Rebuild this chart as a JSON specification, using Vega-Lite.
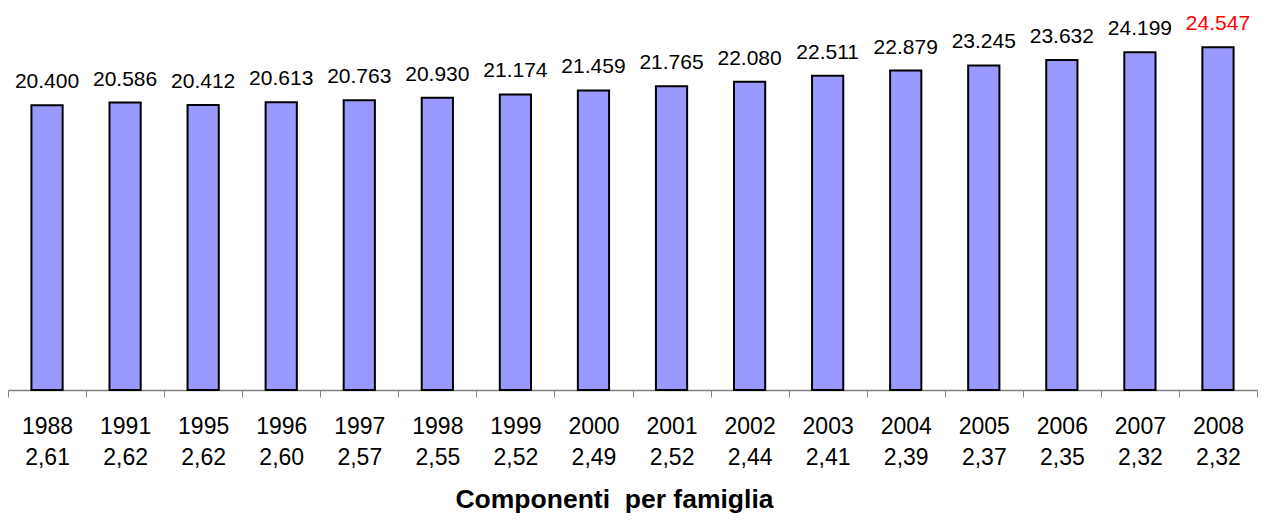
{
  "$schema": "https://vega.github.io/schema/vega-lite/v6.json",
  "width": 1249,
  "height": 349,
  "autosize": "none",
  "padding": {"left": 8, "top": 41, "right": 11, "bottom": 130},
  "background": "white",
  "config": {"view": {"stroke": null}, "font": "Liberation Sans"},
  "data": {"values": [
    {"year": "1988", "comp": "2,61", "value": 20400, "label": "20.400"},
    {"year": "1991", "comp": "2,62", "value": 20586, "label": "20.586"},
    {"year": "1995", "comp": "2,62", "value": 20412, "label": "20.412"},
    {"year": "1996", "comp": "2,60", "value": 20613, "label": "20.613"},
    {"year": "1997", "comp": "2,57", "value": 20763, "label": "20.763"},
    {"year": "1998", "comp": "2,55", "value": 20930, "label": "20.930"},
    {"year": "1999", "comp": "2,52", "value": 21174, "label": "21.174"},
    {"year": "2000", "comp": "2,49", "value": 21459, "label": "21.459"},
    {"year": "2001", "comp": "2,52", "value": 21765, "label": "21.765"},
    {"year": "2002", "comp": "2,44", "value": 22080, "label": "22.080"},
    {"year": "2003", "comp": "2,41", "value": 22511, "label": "22.511"},
    {"year": "2004", "comp": "2,39", "value": 22879, "label": "22.879"},
    {"year": "2005", "comp": "2,37", "value": 23245, "label": "23.245"},
    {"year": "2006", "comp": "2,35", "value": 23632, "label": "23.632"},
    {"year": "2007", "comp": "2,32", "value": 24199, "label": "24.199"},
    {"year": "2008", "comp": "2,32", "value": 24547, "label": "24.547"}
  ]},
  "transform": [{"calculate": "datum.year + '|' + datum.comp", "as": "cat"}],
  "encoding": {
    "x": {
      "field": "cat", "type": "nominal", "sort": null,
      "scale": {"paddingInner": 0, "paddingOuter": 0},
      "axis": {
        "title": "Componenti\u00a0 per famiglia",
        "labelExpr": "isValid(datum.value) ? split(datum.value, '|') : ''",
        "labelAngle": 0,
        "labelFont": "Liberation Sans",
        "labelFontSize": 23,
        "labelLineHeight": 31,
        "labelColor": "black",
        "labelPadding": 18,
        "tickBand": "extent",
        "tickSize": 7,
        "tickColor": "#808080",
        "domainColor": "#808080",
        "domainWidth": 1.5,
        "titleFont": "Liberation Sans",
        "titleFontSize": 26.5,
        "titleFontWeight": "bold",
        "titleColor": "black",
        "titlePadding": 17,
        "titleX": 606
      }
    },
    "y": {
      "field": "value", "type": "quantitative",
      "scale": {"domain": [0, 25000], "nice": false},
      "axis": null
    }
  },
  "layer": [
    {
      "mark": {"type": "bar", "width": {"band": 0.4}, "fill": "#9999FF", "stroke": "black", "strokeWidth": 2}
    },
    {
      "mark": {"type": "text", "baseline": "alphabetic", "dy": -17, "fontSize": 21, "font": "Liberation Sans"},
      "encoding": {
        "text": {"field": "label"},
        "color": {
          "condition": {"test": "datum.year === '2008'", "value": "#FF0000"},
          "value": "black"
        }
      }
    }
  ]
}
